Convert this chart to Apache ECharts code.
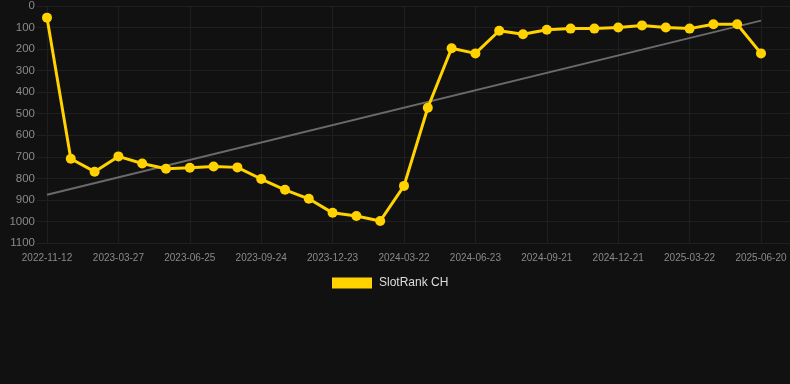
<!DOCTYPE html>
<html>
<head>
<meta charset="utf-8">
<script src="https://cdn.jsdelivr.net/npm/echarts@6/dist/echarts.min.js"></script>
<style>
  html, body { margin: 0; padding: 0; background: #111111; }
  #chart { width: 790px; height: 384px; }
</style>
</head>
<body>
<div id="chart"></div>
<script>
var dates = [
    '2022-11-12', '2022-12-27', '2023-02-10', '2023-03-27', '2023-04-26', '2023-05-26',
    '2023-06-25', '2023-07-25', '2023-08-24', '2023-09-24', '2023-10-24', '2023-11-23',
    '2023-12-23', '2024-01-22', '2024-02-21', '2024-03-22', '2024-04-22', '2024-05-23',
    '2024-06-23', '2024-07-23', '2024-08-22', '2024-09-21', '2024-10-21', '2024-11-21',
    '2024-12-21', '2025-01-20', '2025-02-20', '2025-03-22', '2025-04-21', '2025-05-21',
    '2025-06-20'
];
var ranks = [
    54, 709, 769, 698, 731, 755, 751, 745, 749, 803, 853, 895,
    960, 975, 998, 835, 472, 196, 220, 115, 131, 110, 105, 105,
    100, 90, 100, 105, 85, 85, 220
];
// trend line end values (first and last date)
var trend = [876, 68];
var yTicks = { min: 0, max: 1100, interval: 100 };

var font = 'Liberation Sans, Arial, sans-serif';
var gridColor = '#1f1f1f';

var chart = echarts.init(document.getElementById('chart'));

var option = {
    backgroundColor: '#111111',
    animation: false,
    // grid 0: wide background with y labels + horizontal lines
    // grid 1: the plotted data
    grid: [
        { left: 37, right: 0, top: 6, bottom: 141 },
        { left: 47, right: 29, top: 6, bottom: 141 }
    ],
    legend: {
        top: 272,
        left: 327,
        icon: 'rect',
        itemWidth: 40,
        itemHeight: 11,
        itemGap: 10,
        textStyle: { color: '#dddddd', fontSize: 12, fontFamily: font, padding: [0, 0, 0, 2] },
        data: ['SlotRank CH']
    },
    xAxis: [
        {
            gridIndex: 0,
            type: 'value',
            min: 0,
            max: 1,
            show: false
        },
        {
            gridIndex: 1,
            type: 'category',
            data: dates,
            boundaryGap: false,
            axisLine: { show: false },
            axisTick: { show: false },
            axisLabel: {
                interval: 2,
                color: '#8a8a8a',
                fontSize: 10,
                fontFamily: font,
                margin: 10
            },
            splitLine: {
                show: true,
                interval: 2,
                lineStyle: { color: gridColor }
            }
        }
    ],
    yAxis: [
        {
            gridIndex: 0,
            type: 'value',
            inverse: true,
            min: yTicks.min,
            max: yTicks.max,
            interval: yTicks.interval,
            axisLine: { show: false },
            axisTick: { show: false },
            axisLabel: {
                color: '#8a8a8a',
                fontSize: 11.5,
                fontFamily: font,
                margin: 2,
                formatter: function (v) { return String(v); }
            },
            splitLine: { lineStyle: { color: gridColor } }
        },
        {
            gridIndex: 1,
            type: 'value',
            inverse: true,
            min: yTicks.min,
            max: yTicks.max,
            interval: yTicks.interval,
            show: false,
            splitLine: { show: false }
        }
    ],
    series: [
        {
            name: 'SlotRank CH',
            type: 'line',
            xAxisIndex: 1,
            yAxisIndex: 1,
            data: ranks,
            symbol: 'circle',
            symbolSize: 10,
            itemStyle: { color: '#FFD200' },
            lineStyle: { color: '#FFD200', width: 3 },
            z: 3
        },
        {
            name: 'trend',
            type: 'line',
            xAxisIndex: 1,
            yAxisIndex: 1,
            data: [[dates[0], trend[0]], [dates[dates.length - 1], trend[1]]],
            symbol: 'none',
            lineStyle: { color: '#6a6a6a', width: 2 },
            silent: true,
            z: 2
        }
    ]
};

chart.setOption(option);
window.onresize = chart.resize;
</script>
</body>
</html>
